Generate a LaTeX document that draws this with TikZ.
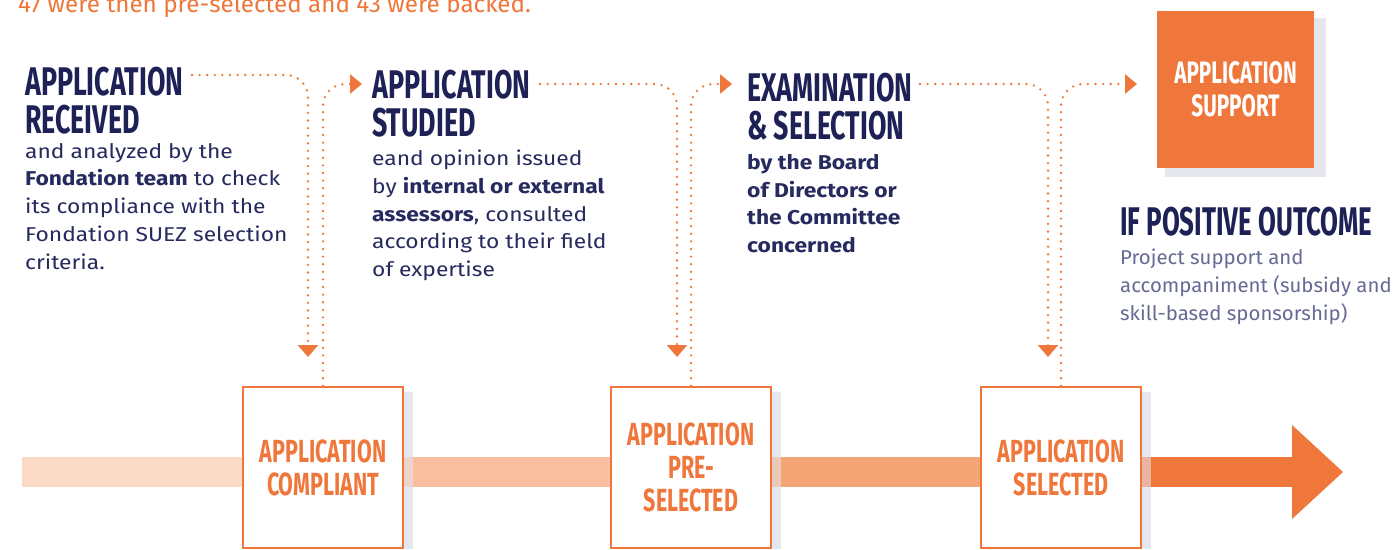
\documentclass[tikz,border=0pt]{standalone}
\usepackage{fontspec}
\setmainfont{Fira Sans}
\newfontfamily\headfont[FakeStretch=0.67]{Fira Sans}
\newfontfamily\headfontb[FakeStretch=0.647]{Fira Sans}
\newfontfamily\bodyfont[FakeStretch=1.14]{Fira Sans}
\newfontfamily\sidefont[FakeStretch=1.02]{Fira Sans}
\newfontfamily\topfont[FakeStretch=1.01]{Fira Sans}
\usetikzlibrary{arrows.meta}
\definecolor{orng}{HTML}{EF773B}
\definecolor{navy}{HTML}{1E2156}
\definecolor{bodynavy}{HTML}{262A5E}
\definecolor{graynavy}{HTML}{666A94}
\definecolor{bandA}{HTML}{FBDAC6}
\definecolor{bandB}{HTML}{F8C0A0}
\definecolor{bandC}{HTML}{F4A576}
\definecolor{shadowgray}{HTML}{E6E6EF}
\tikzset{
  head/.style={font=\headfont\bfseries\fontsize{40}{38}\selectfont, text=navy, align=left, anchor=north west, inner sep=0pt},
  body/.style={font=\bodyfont\fontsize{20}{27.7}\selectfont, text=bodynavy, align=left, anchor=north west, inner sep=0pt},
  stepbox/.style={draw=orng, line width=2.4pt, fill=white, minimum width=160pt, minimum height=161pt, inner sep=0pt,
    font=\headfont\bfseries\fontsize{32}{33}\selectfont, text=orng, align=center},
  supbox/.style={fill=orng, minimum width=157pt, minimum height=157pt, inner sep=0pt,
    font=\headfont\bfseries\fontsize{31}{33}\selectfont, text=white, align=center},
  dots/.style={draw=orng, line width=2.6pt, dash pattern=on 0pt off 7.6pt, line cap=round, rounded corners=22pt},
  downtip/.style={-{Triangle[width=20pt,length=12pt]}},
  righttip/.style={-{Triangle[width=19pt,length=12pt]}}
}
\begin{document}
\begin{tikzpicture}[x=1pt,y=-1pt]
\useasboundingbox (0,0) rectangle (1399,549);
\fill[white] (0,0) rectangle (1399,549);

% top clipped line
\node[font=\topfont\fontsize{24}{28}\selectfont, text=orng, anchor=base west, inner sep=0pt] (toptext) at (18,12) {47 were then pre-selected and 43 were backed.};

% band
\fill[bandA] (22,457) rectangle (243,487);
\fill[bandB] (403,457) rectangle (611,487);
\fill[bandC] (771,457) rectangle (980,487);
\fill[orng] (1141,457) rectangle (1293,487);
\fill[orng] (1292,425) -- (1343,472) -- (1292,519) -- cycle;

% shadows
\fill[shadowgray] (403,392) rectangle (413,549);
\fill[shadowgray!55!bandB] (403,457) rectangle (413,487);
\fill[shadowgray] (771,392) rectangle (781,549);
\fill[shadowgray!55!bandC] (771,457) rectangle (781,487);
\fill[shadowgray] (1141,392) rectangle (1151,549);
\fill[shadowgray!55!orng] (1141,457) rectangle (1151,487);
\fill[shadowgray] (1165,18) rectangle (1326,177);

% boxes
\node[stepbox] (s1) at (323,467.5) {APPLICATION\\COMPLIANT};
\node[stepbox] (s2) at (691,467.5) {APPLICATION\\PRE-\\SELECTED};
\node[stepbox] (s3) at (1061,467.5) {APPLICATION\\SELECTED};
\node[supbox] (sup) at (1235.5,89.5) {APPLICATION\\SUPPORT};

% headings
\node[head] (h1) at (25,67) {APPLICATION\\RECEIVED};
\node[head] (h2) at (372,70) {APPLICATION\\STUDIED};
\node[head] (h3) at (747,73) {EXAMINATION\\\&~SELECTION};
\node[head, font=\headfontb\bfseries\fontsize{40}{38}\selectfont] (h4) at (1120,207) {IF POSITIVE OUTCOME};

% body texts
\node[body] (b1) at (25,143) {and analyzed by the\\\textbf{Fondation team} to check\\its compliance with the\\Fondation SUEZ selection\\criteria.};
\node[body] (b2) at (372,150) {eand opinion issued\\by \textbf{internal or external}\\\textbf{assessors}, consulted\\according to their field\\of expertise};
\node[body, font=\bodyfont\bfseries\fontsize{20}{27.7}\selectfont] (b3) at (747,154) {by the Board\\of Directors or\\the Committee\\concerned};
\node[body, font=\sidefont\fontsize{20}{27.7}\selectfont, text=graynavy] (b4) at (1120,249) {Project support and\\accompaniment (subsidy and\\skill-based sponsorship)};

% connector coordinates
\coordinate (c1s) at (192,75);
\coordinate (c1e) at (308,357);
\coordinate (c2s) at (540,84);
\coordinate (c2e) at (677,357);
\coordinate (c3s) at (920,84);
\coordinate (c3e) at (1048,357);
\coordinate (u1e) at (362,84);
\coordinate (u2e) at (732,84);
\coordinate (u3e) at (1137,84);

% connectors
\draw[dots, downtip] (c1s) -| (c1e);
\draw[dots, downtip] (c2s) -| (c2e);
\draw[dots, downtip] (c3s) -| (c3e);
\draw[dots, righttip] (s1.north) |- (u1e);
\draw[dots, righttip] (s2.north) |- (u2e);
\draw[dots, righttip] (s3.north) |- (u3e);
\end{tikzpicture}
\end{document}
